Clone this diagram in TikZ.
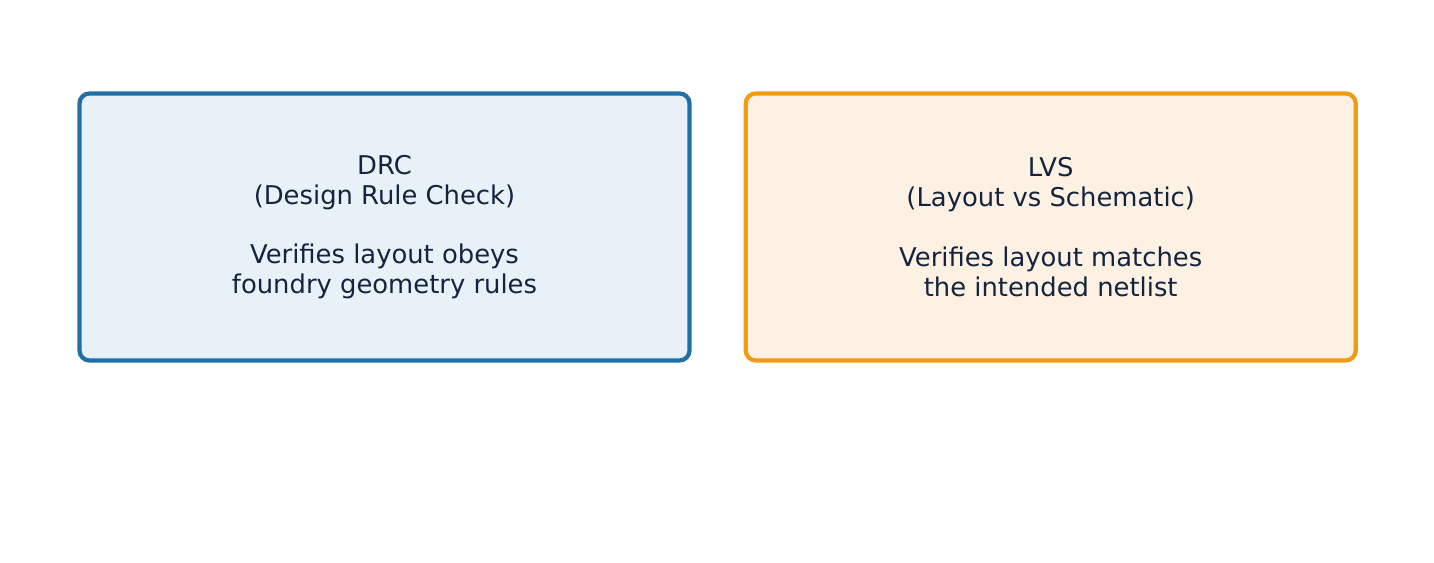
\documentclass[tikz,border=0pt]{standalone}
\usepackage{fontspec}
\setmainfont{DejaVu Sans}
\usetikzlibrary{positioning}
\definecolor{drcline}{HTML}{1F6FA8}
\definecolor{drcfill}{HTML}{E9F1F8}
\definecolor{lvsline}{HTML}{F09C12}
\definecolor{lvsfill}{HTML}{FDF1E3}
\definecolor{textcol}{HTML}{14243F}
\tikzstyle{checkbox} = [draw, line width=2.4pt, rounded corners=0.2cm, minimum width=12.2cm, minimum height=5.34cm, align=center, text=textcol, font=\fontsize{14.7}{17}\selectfont]
\tikzstyle{colorA} = [draw=drcline, fill=drcfill]
\tikzstyle{colorB} = [draw=lvsline, fill=lvsfill]

\begin{document}
\begin{tikzpicture}
    \useasboundingbox (0,0) rectangle (28.68,11.26);
    \node[checkbox, colorA] (drc) at (7.69,6.72) {DRC\\(Design Rule Check)\\[17pt]Verifies layout obeys\\foundry geometry rules};
    \node[checkbox, colorB, right=1.04cm of drc] (lvs) {LVS\\(Layout vs Schematic)\\[17pt]Verifies layout matches\\the intended netlist};
\end{tikzpicture}
\end{document}
